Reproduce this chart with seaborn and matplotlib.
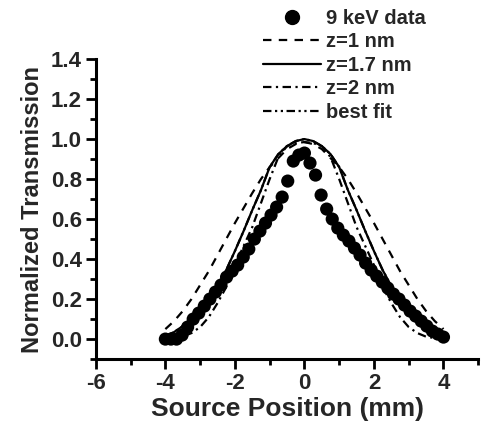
import numpy as np
import pandas as pd
import matplotlib
matplotlib.use("Agg")
import matplotlib.pyplot as plt
import seaborn as sns
from matplotlib.ticker import MultipleLocator, FormatStrFormatter
from matplotlib.lines import Line2D

# ---- data ----
data_x = [-4.00, -3.84, -3.68, -3.52, -3.36, -3.20, -3.04, -2.88, -2.72, -2.56,
          -2.40, -2.24, -2.08, -1.92, -1.76, -1.60, -1.44, -1.28, -1.12, -0.96,
          -0.80, -0.64, -0.48, -0.32, -0.16, 0.00, 0.16, 0.32, 0.48, 0.64,
          0.80, 0.96, 1.12, 1.28, 1.44, 1.60, 1.76, 1.92, 2.08, 2.24,
          2.40, 2.56, 2.72, 2.88, 3.04, 3.20, 3.36, 3.52, 3.68, 3.84, 4.00]
data_y = [0.00, 0.00, 0.00, 0.02, 0.06, 0.10, 0.13, 0.165, 0.20, 0.235,
          0.27, 0.31, 0.34, 0.37, 0.41, 0.45, 0.50, 0.54, 0.58, 0.62,
          0.66, 0.71, 0.79, 0.89, 0.92, 0.93, 0.88, 0.82, 0.72, 0.65,
          0.60, 0.555, 0.52, 0.49, 0.455, 0.42, 0.38, 0.345, 0.315, 0.285,
          0.255, 0.225, 0.20, 0.17, 0.14, 0.115, 0.09, 0.065, 0.04, 0.025, 0.01]

curve_x = [-4.0, -3.75, -3.5, -3.25, -3.0, -2.75, -2.5, -2.25, -2.0, -1.75,
           -1.5, -1.25, -1.0, -0.75, -0.5, -0.25, 0.0, 0.25, 0.5, 0.75,
           1.0, 1.25, 1.5, 1.75, 2.0, 2.25, 2.5, 2.75, 3.0, 3.25,
           3.5, 3.75, 4.0]
z1_y = [0.05, 0.09, 0.14, 0.20, 0.27, 0.34, 0.42, 0.50, 0.58, 0.655,
        0.73, 0.80, 0.86, 0.905, 0.95, 0.975, 0.985, 0.975, 0.95, 0.905,
        0.86, 0.80, 0.73, 0.655, 0.58, 0.50, 0.42, 0.34, 0.27, 0.20,
        0.14, 0.09, 0.05]
z17_y = [0.015, 0.035, 0.065, 0.10, 0.14, 0.195, 0.265, 0.345, 0.44, 0.54,
         0.645, 0.745, 0.86, 0.925, 0.965, 0.99, 1.00, 0.99, 0.965, 0.925,
         0.86, 0.745, 0.645, 0.54, 0.44, 0.345, 0.265, 0.195, 0.14, 0.10,
         0.065, 0.035, 0.015]
z2_y = [0.00, 0.005, 0.012, 0.03, 0.06, 0.11, 0.18, 0.26, 0.37, 0.465,
        0.56, 0.68, 0.80, 0.91, 0.965, 0.98, 0.985, 0.98, 0.965, 0.91,
        0.80, 0.68, 0.56, 0.465, 0.37, 0.26, 0.18, 0.11, 0.06, 0.03,
        0.012, 0.005, 0.00]
fit_y = z17_y

labels = ["9 keV data", "z=1 nm", "z=1.7 nm", "z=2 nm", "best fit"]
x_ticks = [-6, -4, -2, 0, 2, 4]
y_ticks = [0.0, 0.2, 0.4, 0.6, 0.8, 1.0, 1.2, 1.4]

# ---- style ----
sns.set_style("ticks")
plt.rcParams["font.family"] = ["Liberation Sans", "DejaVu Sans"]
plt.rcParams["font.weight"] = "bold"

fig = plt.figure(figsize=(4.89, 4.28), dpi=100)
ax = fig.add_axes([0.196, 0.161, 0.782, 0.701])

lw = 1.6
styles = {
    "z=1 nm": (0, (3.8, 3.3)),
    "z=1.7 nm": "-",
    "z=2 nm": (0, (3.8, 2.0, 1.0, 2.0)),
    "best fit": (0, (3.8, 1.6, 1.0, 1.6, 1.0, 1.6)),
}
curves = {"z=1 nm": z1_y, "z=1.7 nm": z17_y, "z=2 nm": z2_y, "best fit": fit_y}

sns.lineplot(x=curve_x, y=fit_y, ax=ax, color="black", lw=lw,
             linestyle=styles["best fit"])
for name in ["z=1 nm", "z=2 nm", "z=1.7 nm"]:
    sns.lineplot(x=curve_x, y=curves[name], ax=ax, color="black", lw=lw,
                 linestyle=styles[name])

sns.scatterplot(x=data_x, y=data_y, ax=ax, color="black", s=90,
                edgecolor="none", linewidth=0, zorder=5)

ax.set_xlim(-6, 5)
ax.set_ylim(-0.1, 1.4)
ax.set_xticks(x_ticks)
ax.set_yticks(y_ticks)
ax.xaxis.set_minor_locator(MultipleLocator(1))
ax.yaxis.set_minor_locator(MultipleLocator(0.1))
ax.yaxis.set_major_formatter(FormatStrFormatter("%.1f"))
ax.set_xticklabels([str(t) for t in x_ticks])

for side in ["top", "right"]:
    ax.spines[side].set_visible(False)
for side in ["left", "bottom"]:
    ax.spines[side].set_linewidth(2.2)
    ax.spines[side].set_color("black")

ax.tick_params(which="major", direction="out", length=7, width=2,
               labelsize=16, color="black", pad=3)
ax.tick_params(which="minor", direction="out", length=4.5, width=2,
               color="black")
for lab in ax.get_xticklabels() + ax.get_yticklabels():
    lab.set_fontweight("bold")

ax.set_xlabel("Source Position (mm)", fontsize=19, fontweight="bold", labelpad=2)
ax.set_ylabel("Normalized Transmission", fontsize=17, fontweight="bold", labelpad=5)

handles = [
    Line2D([], [], ls="none", marker="o", color="black", markersize=10),
    Line2D([], [], color="black", lw=lw, ls=styles["z=1 nm"]),
    Line2D([], [], color="black", lw=lw, ls=styles["z=1.7 nm"]),
    Line2D([], [], color="black", lw=lw, ls=styles["z=2 nm"]),
    Line2D([], [], color="black", lw=lw, ls=styles["best fit"]),
]
fig.legend(handles, labels, loc="upper left", bbox_to_anchor=(260 / 489, 1 - 6 / 428),
           frameon=False, handlelength=2.9, handletextpad=0.25,
           labelspacing=0.22, borderpad=0.15, borderaxespad=0.0,
           prop={"weight": "bold", "size": 14.5})

fig.savefig("out.png", dpi=100)
